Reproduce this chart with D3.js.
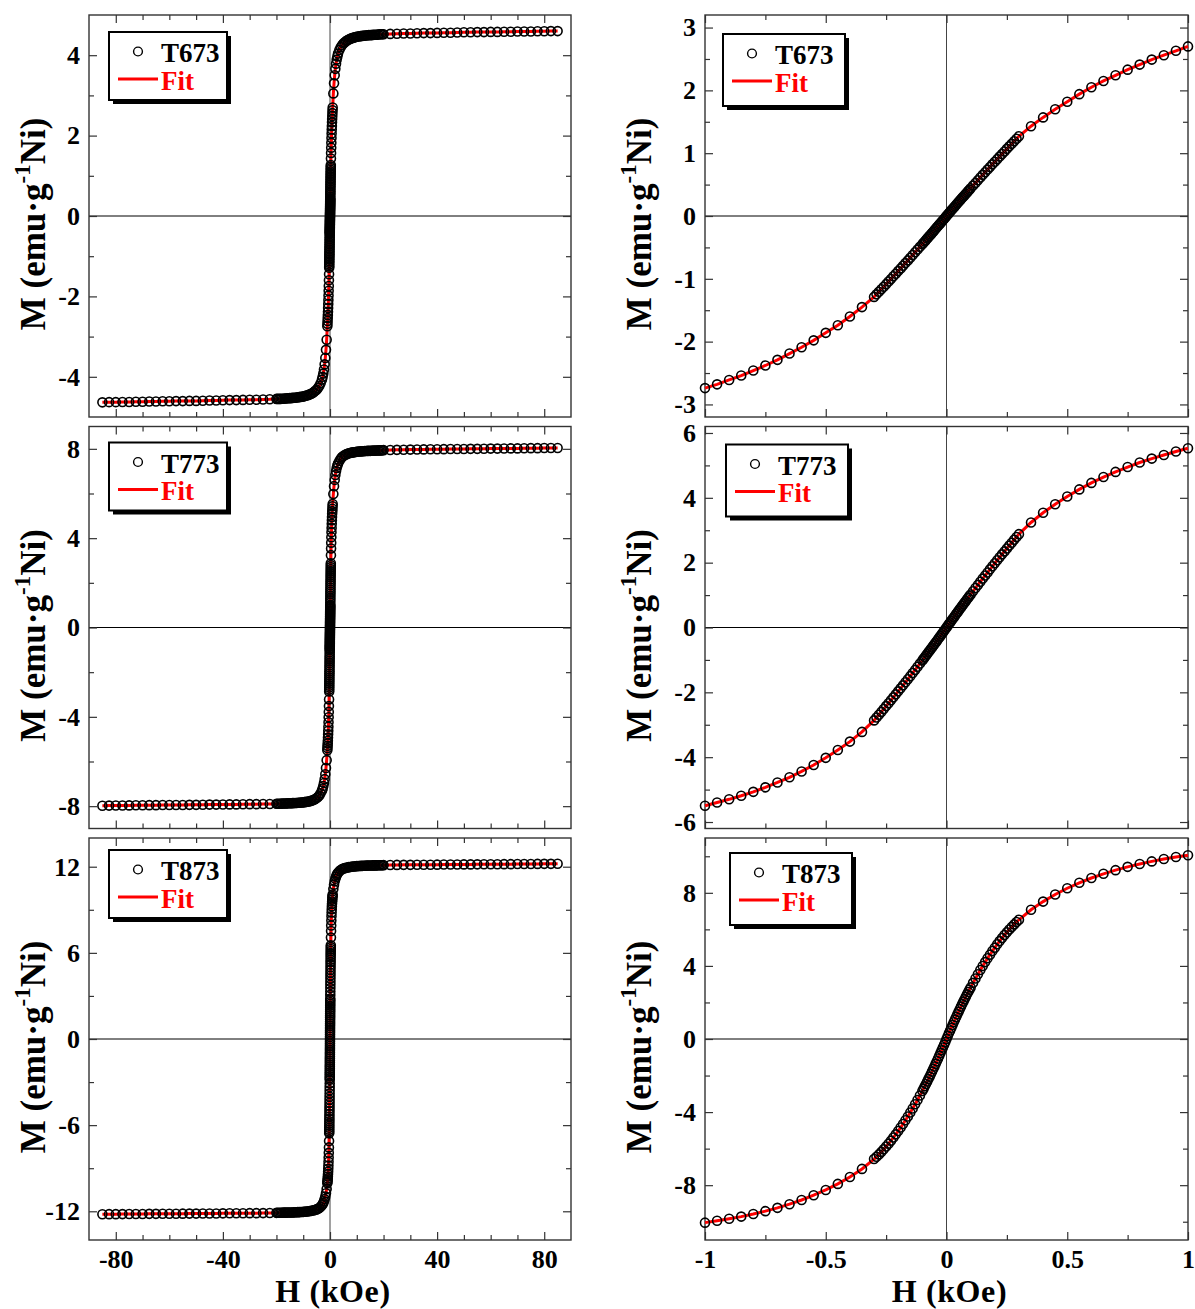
<!DOCTYPE html>
<html>
<head>
<meta charset="utf-8">
<script src="https://cdn.jsdelivr.net/npm/d3@7"></script>
<style>
body { margin: 0; background: #fff; }
text { font-family: "Liberation Serif", "Times New Roman", serif; font-weight: bold; }
</style>
</head>
<body>
<svg id="svg0"></svg>
<script>
// field steps of the sweep (kOe), measured at +h and -h
var fieldSteps = [0, 0.005, 0.01, 0.015, 0.02, 0.025, 0.03, 0.035, 0.04, 0.045, 0.05, 0.055, 0.06, 0.065, 0.07, 0.075, 0.08, 0.085, 0.09, 0.095,
  0.1, 0.11, 0.12, 0.13, 0.14, 0.15, 0.16, 0.17, 0.18, 0.19, 0.2, 0.21, 0.22, 0.23, 0.24, 0.25, 0.26, 0.27, 0.28, 0.29, 0.3,
  0.35, 0.4, 0.45, 0.5, 0.55, 0.6, 0.65, 0.7, 0.75, 0.8, 0.85, 0.9, 0.95, 1,
  1.25, 1.5, 1.75, 2, 2.25, 2.5, 2.75,
  3, 3.5, 4, 4.5, 5, 5.5, 6, 6.5, 7, 7.5, 8, 8.5, 9, 9.5, 10, 10.5, 11, 11.5, 12, 12.5, 13, 13.5, 14, 14.5, 15, 15.5, 16, 16.5, 17, 17.5, 18, 18.5, 19, 19.5, 20,
  22.5, 25, 27.5, 30, 32.5, 35, 37.5, 40, 42.5, 45, 47.5, 50, 52.5, 55, 57.5, 60, 62.5, 65, 67.5, 70, 72.5, 75, 77.5, 80, 82.5, 85];

// M (emu/g Ni) at +h
var m673Up = [0, 0.022, 0.045, 0.067, 0.090, 0.112, 0.134, 0.156, 0.179, 0.201, 0.223, 0.245, 0.267, 0.289, 0.311, 0.332, 0.354, 0.376, 0.398, 0.419,
  0.441, 0.484, 0.527, 0.570, 0.612, 0.655, 0.697, 0.739, 0.781, 0.822, 0.864, 0.905, 0.946, 0.987, 1.028, 1.069, 1.109, 1.149, 1.189, 1.229, 1.269,
  1.43, 1.57, 1.70, 1.82, 1.94, 2.05, 2.15, 2.24, 2.33, 2.41, 2.49, 2.56, 2.63, 2.70,
  3.05, 3.30, 3.50, 3.66, 3.79, 3.89, 3.97,
  4.04, 4.13, 4.20, 4.25, 4.29, 4.32, 4.35, 4.37, 4.39, 4.405, 4.42, 4.43, 4.44, 4.45, 4.46, 4.465, 4.47, 4.475, 4.48, 4.485, 4.49, 4.49, 4.495, 4.50, 4.50, 4.50, 4.505, 4.51, 4.51, 4.51, 4.515, 4.52, 4.52, 4.52, 4.52,
  4.53, 4.535, 4.54, 4.54, 4.545, 4.55, 4.55, 4.555, 4.56, 4.56, 4.565, 4.57, 4.57, 4.575, 4.575, 4.58, 4.58, 4.585, 4.585, 4.59, 4.59, 4.59, 4.595, 4.595, 4.60, 4.60];
// M at -h
var m673Down = [0, -0.022, -0.046, -0.068, -0.091, -0.114, -0.136, -0.158, -0.181, -0.204, -0.226, -0.249, -0.271, -0.293, -0.316, -0.337, -0.359, -0.382, -0.404, -0.425,
  -0.448, -0.491, -0.535, -0.578, -0.621, -0.665, -0.707, -0.750, -0.793, -0.834, -0.877, -0.919, -0.960, -1.002, -1.043, -1.085, -1.126, -1.166, -1.207, -1.247, -1.288,
  -1.45, -1.60, -1.74, -1.86, -1.98, -2.09, -2.19, -2.29, -2.38, -2.46, -2.54, -2.61, -2.68, -2.74,
  -3.08, -3.33, -3.53, -3.69, -3.82, -3.92, -4.00,
  -4.07, -4.16, -4.23, -4.28, -4.32, -4.35, -4.38, -4.40, -4.42, -4.435, -4.45, -4.46, -4.47, -4.48, -4.49, -4.495, -4.50, -4.505, -4.51, -4.515, -4.52, -4.52, -4.525, -4.53, -4.53, -4.535, -4.535, -4.54, -4.54, -4.545, -4.545, -4.55, -4.55, -4.55, -4.55,
  -4.56, -4.565, -4.57, -4.57, -4.575, -4.58, -4.58, -4.585, -4.59, -4.59, -4.595, -4.60, -4.60, -4.605, -4.605, -4.61, -4.61, -4.615, -4.615, -4.62, -4.62, -4.625, -4.625, -4.63, -4.63, -4.635];

var m773Up = [0, 0.052, 0.105, 0.157, 0.209, 0.261, 0.312, 0.364, 0.415, 0.466, 0.518, 0.568, 0.619, 0.670, 0.720, 0.771, 0.821, 0.871, 0.921, 0.970,
  1.020, 1.119, 1.217, 1.314, 1.411, 1.508, 1.603, 1.698, 1.793, 1.887, 1.980, 2.073, 2.165, 2.256, 2.347, 2.438, 2.527, 2.616, 2.705, 2.793, 2.880,
  3.24, 3.54, 3.80, 4.04, 4.26, 4.46, 4.64, 4.80, 4.95, 5.09, 5.21, 5.32, 5.43, 5.53,
  5.98, 6.33, 6.61, 6.83, 7.00, 7.14, 7.25,
  7.34, 7.46, 7.56, 7.63, 7.68, 7.72, 7.75, 7.78, 7.80, 7.815, 7.83, 7.84, 7.85, 7.86, 7.87, 7.875, 7.88, 7.885, 7.89, 7.895, 7.90, 7.905, 7.91, 7.91, 7.91, 7.915, 7.92, 7.92, 7.92, 7.925, 7.93, 7.93, 7.93, 7.935, 7.94,
  7.95, 7.955, 7.96, 7.965, 7.97, 7.975, 7.98, 7.98, 7.985, 7.99, 7.99, 7.995, 8.00, 8.00, 8.005, 8.01, 8.01, 8.015, 8.02, 8.02, 8.025, 8.03, 8.03, 8.035, 8.04, 8.04];
var m773Down = [0, -0.052, -0.104, -0.156, -0.208, -0.259, -0.310, -0.362, -0.413, -0.464, -0.515, -0.565, -0.616, -0.666, -0.716, -0.767, -0.817, -0.866, -0.916, -0.965,
  -1.015, -1.113, -1.211, -1.308, -1.404, -1.500, -1.595, -1.690, -1.784, -1.877, -1.970, -2.062, -2.154, -2.245, -2.335, -2.425, -2.514, -2.603, -2.691, -2.778, -2.865,
  -3.22, -3.52, -3.78, -4.02, -4.24, -4.44, -4.62, -4.78, -4.93, -5.07, -5.19, -5.30, -5.40, -5.50,
  -5.94, -6.29, -6.57, -6.79, -6.96, -7.10, -7.21,
  -7.30, -7.42, -7.52, -7.59, -7.64, -7.68, -7.71, -7.74, -7.76, -7.775, -7.79, -7.80, -7.81, -7.82, -7.83, -7.835, -7.84, -7.845, -7.85, -7.855, -7.86, -7.86, -7.865, -7.87, -7.87, -7.87, -7.875, -7.88, -7.88, -7.88, -7.885, -7.89, -7.89, -7.89, -7.895,
  -7.90, -7.905, -7.91, -7.91, -7.915, -7.92, -7.92, -7.925, -7.93, -7.93, -7.935, -7.94, -7.94, -7.945, -7.945, -7.95, -7.95, -7.955, -7.955, -7.96, -7.96, -7.965, -7.97, -7.97, -7.975, -7.98];

var m873Up = [0, 0.157, 0.312, 0.465, 0.617, 0.767, 0.916, 1.063, 1.208, 1.352, 1.494, 1.634, 1.773, 1.910, 2.046, 2.180, 2.312, 2.443, 2.572, 2.699,
  2.825, 3.072, 3.312, 3.546, 3.773, 3.994, 4.208, 4.416, 4.617, 4.812, 5.000, 5.182, 5.357, 5.526, 5.688, 5.844, 5.993, 6.136, 6.272, 6.402, 6.525,
  7.07, 7.52, 7.91, 8.25, 8.55, 8.81, 9.04, 9.24, 9.42, 9.58, 9.72, 9.85, 9.96, 10.06,
  10.45, 10.75, 10.98, 11.16, 11.30, 11.42, 11.51,
  11.58, 11.69, 11.77, 11.83, 11.87, 11.90, 11.93, 11.95, 11.97, 11.985, 12.00, 12.01, 12.02, 12.03, 12.04, 12.045, 12.05, 12.055, 12.06, 12.065, 12.07, 12.075, 12.08, 12.08, 12.08, 12.085, 12.09, 12.09, 12.09, 12.095, 12.10, 12.10, 12.10, 12.105, 12.11,
  12.12, 12.125, 12.13, 12.13, 12.135, 12.14, 12.14, 12.145, 12.15, 12.15, 12.155, 12.16, 12.16, 12.165, 12.17, 12.17, 12.175, 12.18, 12.18, 12.185, 12.19, 12.19, 12.195, 12.20, 12.20, 12.21];
var m873Down = [0, -0.158, -0.314, -0.468, -0.621, -0.772, -0.922, -1.070, -1.216, -1.361, -1.504, -1.645, -1.785, -1.923, -2.060, -2.195, -2.328, -2.460, -2.590, -2.718,
  -2.845, -3.094, -3.336, -3.572, -3.800, -4.023, -4.238, -4.448, -4.650, -4.846, -5.035, -5.218, -5.394, -5.564, -5.727, -5.884, -6.034, -6.178, -6.315, -6.446, -6.570,
  -7.11, -7.55, -7.93, -8.26, -8.55, -8.81, -9.04, -9.24, -9.42, -9.58, -9.72, -9.84, -9.95, -10.05,
  -10.44, -10.74, -10.97, -11.15, -11.30, -11.42, -11.51,
  -11.58, -11.69, -11.77, -11.83, -11.87, -11.90, -11.93, -11.95, -11.97, -11.985, -12.00, -12.01, -12.02, -12.03, -12.04, -12.045, -12.05, -12.055, -12.06, -12.065, -12.07, -12.075, -12.08, -12.08, -12.08, -12.085, -12.09, -12.09, -12.09, -12.095, -12.10, -12.10, -12.10, -12.105, -12.11,
  -12.12, -12.125, -12.13, -12.13, -12.135, -12.14, -12.14, -12.145, -12.15, -12.15, -12.155, -12.16, -12.16, -12.165, -12.17, -12.17, -12.175, -12.18, -12.18, -12.185, -12.19, -12.19, -12.195, -12.20, -12.20, -12.21];

var samples = ["T673", "T773", "T873"];

var leftFieldTicks = [-80, -40, 0, 40, 80];
var leftFieldMinor = [-70, -60, -50, -30, -20, -10, 10, 20, 30, 50, 60, 70];
var rightFieldTicks = [-1, -0.5, 0, 0.5, 1];
var rightFieldMinor = [-0.75, -0.25, 0.25, 0.75];

var mTicksLeft = [[-4, -2, 0, 2, 4], [-8, -4, 0, 4, 8], [-12, -6, 0, 6, 12]];
var mMinorLeft = [[-3, -1, 1, 3], [-6, -2, 2, 6], [-9, -3, 3, 9]];
var mTicksRight = [[-3, -2, -1, 0, 1, 2, 3], [-6, -4, -2, 0, 2, 4, 6], [-8, -4, 0, 4, 8]];
var mMinorRight = [[-2.5, -1.5, -0.5, 0.5, 1.5, 2.5], [-5, -3, -1, 1, 3, 5], [-10, -6, -2, 2, 6, 10]];
var mRangeLeft = [5, 9, 14];
var mRangeRight = [3.2, 6.2, 11];

var sweeps = [[m673Up, m673Down], [m773Up, m773Down], [m873Up, m873Down]];

function sweep(up, down) {
  var pts = [];
  for (var i = fieldSteps.length - 1; i > 0; i--) pts.push({ h: -fieldSteps[i], m: down[i] });
  for (var j = 0; j < fieldSteps.length; j++) pts.push({ h: fieldSteps[j], m: up[j] });
  return pts;
}

var svg = d3.select("#svg0").attr("width", 1195).attr("height", 1309);
svg.append("rect").attr("width", 1195).attr("height", 1309).attr("fill", "#fff");

var rowTop = [15, 426.5, 838], panelH = 402;
var cols = [
  { x0: 89, x1: 571, hMax: 90, ticks: leftFieldTicks, minor: leftFieldMinor, titleX: -44,
    legend: [[20, 17], [20, 16], [20, 12]], lw: 118, lh: 68 },
  { x0: 705, x1: 1188, hMax: 1, ticks: rightFieldTicks, minor: rightFieldMinor, titleX: -54,
    legend: [[18, 19], [21, 18], [25, 15]], lw: 122, lh: 72 }
];

var fmt = function (d) { return String(d); };

function styleAxis(a) {
  a.select(".domain").remove();
  a.selectAll("line").attr("stroke", "#333").attr("stroke-width", 1.2);
  a.selectAll("text").attr("fill", "#000").style("font-size", "26px")
    .style("font-family", '"Liberation Serif", "Times New Roman", serif').style("font-weight", "bold");
}

function drawPanel(row, c) {
  var col = cols[c];
  var w = col.x1 - col.x0;
  var range = c == 0 ? mRangeLeft[row] : mRangeRight[row];
  var majorY = c == 0 ? mTicksLeft[row] : mTicksRight[row];
  var minorY = c == 0 ? mMinorLeft[row] : mMinorRight[row];
  var data = sweep(sweeps[row][0], sweeps[row][1]).filter(function (d) { return Math.abs(d.h) <= col.hMax; });

  var g = svg.append("g").attr("transform", "translate(" + col.x0 + "," + rowTop[row] + ")");
  var x = d3.scaleLinear().domain([-col.hMax, col.hMax]).range([0, w]);
  var y = d3.scaleLinear().domain([-range, range]).range([panelH, 0]);

  // zero lines
  g.append("line").attr("x1", 0).attr("x2", w).attr("y1", y(0)).attr("y2", y(0))
    .attr("stroke", "#000").attr("stroke-width", 1);
  g.append("line").attr("x1", x(0)).attr("x2", x(0)).attr("y1", 0).attr("y2", panelH)
    .attr("stroke", "#444").attr("stroke-width", 1);

  // ticks on all four sides, pointing in
  var bottomRow = row == 2;
  styleAxis(g.append("g").call(d3.axisLeft(y).tickValues(majorY).tickSize(-8).tickPadding(9).tickFormat(fmt)));
  styleAxis(g.append("g").call(d3.axisLeft(y).tickValues(minorY).tickSize(-5).tickFormat("")));
  styleAxis(g.append("g").attr("transform", "translate(" + w + ",0)").call(d3.axisRight(y).tickValues(majorY).tickSize(-8).tickFormat("")));
  styleAxis(g.append("g").attr("transform", "translate(" + w + ",0)").call(d3.axisRight(y).tickValues(minorY).tickSize(-5).tickFormat("")));
  styleAxis(g.append("g").call(d3.axisTop(x).tickValues(col.ticks).tickSize(-8).tickFormat("")));
  styleAxis(g.append("g").call(d3.axisTop(x).tickValues(col.minor).tickSize(-5).tickFormat("")));
  styleAxis(g.append("g").attr("transform", "translate(0," + panelH + ")")
    .call(d3.axisBottom(x).tickValues(col.ticks).tickSize(-8).tickPadding(10).tickFormat(bottomRow ? fmt : "")));
  styleAxis(g.append("g").attr("transform", "translate(0," + panelH + ")")
    .call(d3.axisBottom(x).tickValues(col.minor).tickSize(-5).tickFormat("")));

  // frame
  g.append("rect").attr("width", w).attr("height", panelH)
    .attr("fill", "none").attr("stroke", "#333").attr("stroke-width", 1.4);

  // fit line and data circles
  var line = d3.line().x(function (d) { return x(d.h); }).y(function (d) { return y(d.m); });
  g.append("path").datum(data).attr("d", line)
    .attr("fill", "none").attr("stroke", "#ff0000").attr("stroke-width", 3);
  g.selectAll("circle.pt").data(data).enter().append("circle").attr("class", "pt")
    .attr("cx", function (d) { return x(d.h); })
    .attr("cy", function (d) { return y(d.m); })
    .attr("r", 4.5)
    .attr("fill", "none").attr("stroke", "#000").attr("stroke-width", 1.6);

  // legend
  var lx = col.legend[row][0], ly = col.legend[row][1];
  var lg = g.append("g").attr("transform", "translate(" + lx + "," + ly + ")");
  lg.append("rect").attr("x", 4).attr("y", 4).attr("width", col.lw).attr("height", col.lh).attr("fill", "#000");
  lg.append("rect").attr("width", col.lw).attr("height", col.lh).attr("fill", "#fff").attr("stroke", "#000").attr("stroke-width", 2);
  lg.append("circle").attr("cx", 29).attr("cy", 19.5).attr("r", 4.4)
    .attr("fill", "none").attr("stroke", "#000").attr("stroke-width", 1.4);
  lg.append("text").attr("x", 52).attr("y", 30).style("font-size", "27px").attr("fill", "#000").text(samples[row]);
  lg.append("line").attr("x1", 9).attr("x2", 49).attr("y1", 47).attr("y2", 47)
    .attr("stroke", "#ff0000").attr("stroke-width", 3);
  lg.append("text").attr("x", 52).attr("y", 57.5).style("font-size", "27px").attr("fill", "#ff0000").text("Fit");

  // y title
  var yt = g.append("text")
    .attr("transform", "translate(" + col.titleX + "," + (panelH / 2 + 8) + ") rotate(-90)")
    .attr("text-anchor", "middle").style("font-size", "35px").attr("fill", "#000");
  yt.append("tspan").text("M (emu\u00b7g");
  yt.append("tspan").attr("dy", -15).style("font-size", "23px").text("-1");
  yt.append("tspan").attr("dy", 15).text("Ni)");

  if (bottomRow) {
    g.append("text").attr("x", w / 2 + 3).attr("y", panelH + 62)
      .attr("text-anchor", "middle").style("font-size", "32px").style("letter-spacing", "0.6px")
      .attr("fill", "#000").text("H (kOe)");
  }
}

for (var r = 0; r < 3; r++) {
  drawPanel(r, 0);
  drawPanel(r, 1);
}
</script>
</body>
</html>
